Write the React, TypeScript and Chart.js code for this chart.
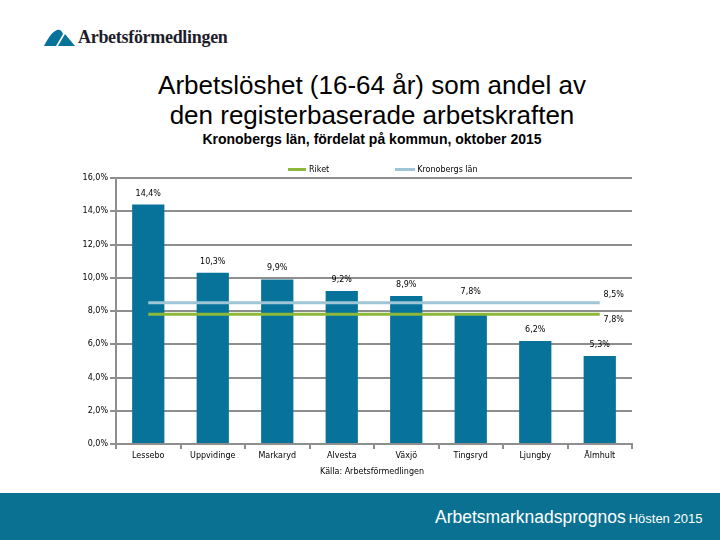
import React, { useEffect, useRef } from "react";
import { Chart, registerables } from "chart.js";

Chart.register(...registerables);

const categories = ["Lessebo", "Uppvidinge", "Markaryd", "Alvesta", "Växjö", "Tingsryd", "Ljungby", "Älmhult"];
const kommunValues = [14.4, 10.3, 9.9, 9.2, 8.9, 7.8, 6.2, 5.3];
const riketValue = 7.8;
const lanValue = 8.5;
const yTicks = [0, 2, 4, 6, 8, 10, 12, 14, 16];

const TEAL = "#07739a";
const GREEN = "#8db83a";
const LIGHTBLUE = "#9ec6d6";
const GRID = "#8e8e8e";
const FONT = "'DejaVu Sans', Verdana, sans-serif";

const fmt = (v: number) => v.toFixed(1).replace(".", ",") + "%";

const labelPlugin = {
  id: "valueLabels",
  afterDatasetsDraw(chart: any) {
    const ctx = chart.ctx;
    ctx.save();
    ctx.font = `8px ${FONT}`;
    ctx.fillStyle = "#000";
    ctx.textAlign = "center";
    ctx.textBaseline = "middle";
    const y = chart.scales.y;
    const lineYs = [y.getPixelForValue(riketValue), y.getPixelForValue(lanValue)];
    const barMeta = chart.getDatasetMeta(2);
    barMeta.data.forEach((el: any, i: number) => {
      let top = el.y;
      lineYs.forEach((ly) => {
        if (top > ly && top - ly < 20) top = Math.min(top, ly);
      });
      ctx.fillText(fmt(kommunValues[i]), el.x, top - 11);
    });
    const lanMeta = chart.getDatasetMeta(1);
    const lastLan = lanMeta.data[lanMeta.data.length - 1];
    ctx.fillText(fmt(lanValue), lastLan.x + 14, lastLan.y - 8);
    const rikMeta = chart.getDatasetMeta(0);
    const lastRik = rikMeta.data[rikMeta.data.length - 1];
    ctx.fillText(fmt(riketValue), lastRik.x + 14, lastRik.y + 6);
    ctx.restore();
  },
};

function ChartCanvas() {
  const ref = useRef<HTMLCanvasElement | null>(null);
  useEffect(() => {
    if (!ref.current) return;
    const chart = new Chart(ref.current, {
      type: "bar",
      data: {
        labels: categories,
        datasets: [
          {
            type: "line",
            label: "Riket",
            data: categories.map(() => riketValue),
            borderColor: GREEN,
            backgroundColor: GREEN,
            borderWidth: 3,
            pointRadius: 0,
            order: 0,
          } as any,
          {
            type: "line",
            label: "Kronobergs län",
            data: categories.map(() => lanValue),
            borderColor: LIGHTBLUE,
            backgroundColor: LIGHTBLUE,
            borderWidth: 3,
            pointRadius: 0,
            order: 1,
          } as any,
          {
            type: "bar",
            label: "Kommun",
            data: kommunValues,
            backgroundColor: TEAL,
            categoryPercentage: 1,
            barPercentage: 0.5,
            order: 2,
          } as any,
        ],
      },
      options: {
        animation: false,
        responsive: false,
        maintainAspectRatio: false,
        layout: { padding: { left: 0, right: 88, top: 178, bottom: 66 } },
        plugins: { legend: { display: false }, tooltip: { enabled: false } },
        scales: {
          x: {
            grid: { display: true, drawOnChartArea: false, color: GRID, lineWidth: 2, tickLength: 5, offset: true },
            border: { color: GRID, width: 2 },
            ticks: { color: "#000", font: { family: FONT, size: 8 }, padding: 2, maxRotation: 0, autoSkip: false },
            afterFit: (s: any) => { s.height = 30; },
          },
          y: {
            min: 0,
            max: 16,
            afterBuildTicks: (s: any) => { s.ticks = yTicks.map((v) => ({ value: v })); },
            grid: { color: GRID, lineWidth: 2, tickLength: 6 },
            border: { color: GRID, width: 2 },
            ticks: { color: "#000", font: { family: FONT, size: 8 }, padding: 2, callback: (v: any) => fmt(Number(v)) },
            afterFit: (s: any) => { s.width = 116; },
          },
        },
      },
      plugins: [labelPlugin],
    });
    return () => chart.destroy();
  }, []);
  return <canvas ref={ref} width={720} height={540} style={{ position: "absolute", left: 0, top: 0, width: 720, height: 540 }} />;
}

export default function App() {
  return (
    <div style={{ position: "absolute", left: 0, top: 0, width: 720, height: 540, background: "#fff", overflow: "hidden" }}>
      <svg style={{ position: "absolute", left: 44, top: 28 }} width={32} height={20} viewBox="0 0 32 20">
        <path d="M0 18 C4 10 8 4 13 2 C16 1 18 3 19 6 L12 18 Z" fill={TEAL} />
        <path d="M14 18 L21 6 L31 18 Z" fill={TEAL} />
      </svg>
      <div style={{ position: "absolute", left: 78, top: 27, fontFamily: "'Liberation Serif', serif", fontWeight: "bold", fontSize: 18, color: "#1d1d2b", letterSpacing: -0.3 }}>
        Arbetsförmedlingen
      </div>
      <div style={{ position: "absolute", left: 22, width: 700, top: 70, textAlign: "center", fontFamily: "'Liberation Sans', Arial, sans-serif", fontSize: 26, lineHeight: "30px", color: "#000" }}>
        Arbetslöshet (16-64 år) som andel av<br />den registerbaserade arbetskraften
      </div>
      <div style={{ position: "absolute", left: 72, width: 600, top: 131, textAlign: "center", fontFamily: "'Liberation Sans', Arial, sans-serif", fontSize: 14, fontWeight: "bold", color: "#000" }}>
        Kronobergs län, fördelat på kommun, oktober 2015
      </div>
      <ChartCanvas />
      <div style={{ position: "absolute", left: 288, top: 165, fontFamily: FONT, fontSize: 8, color: "#000", display: "flex", alignItems: "center" }}>
        <span style={{ display: "inline-block", width: 18, height: 3, background: GREEN, marginRight: 3 }} />
        <span>Riket</span>
        <span style={{ display: "inline-block", width: 20, height: 3, background: LIGHTBLUE, marginLeft: 66, marginRight: 2 }} />
        <span>Kronobergs län</span>
      </div>
      <div style={{ position: "absolute", left: 272, width: 200, top: 467, textAlign: "center", fontFamily: FONT, fontSize: 8, color: "#000" }}>
        Källa: Arbetsförmedlingen
      </div>
      <div style={{ position: "absolute", left: 0, top: 493, width: 720, height: 47, background: "#0a7193" }}>
        <div style={{ position: "absolute", left: 435, top: 14, fontFamily: "'Liberation Sans', Arial, sans-serif", color: "#fff", whiteSpace: "nowrap" }}>
          <span style={{ fontSize: 17.5 }}>Arbetsmarknadsprognos</span>
          <span style={{ fontSize: 13, marginLeft: 3 }}>Hösten 2015</span>
        </div>
      </div>
    </div>
  );
}
